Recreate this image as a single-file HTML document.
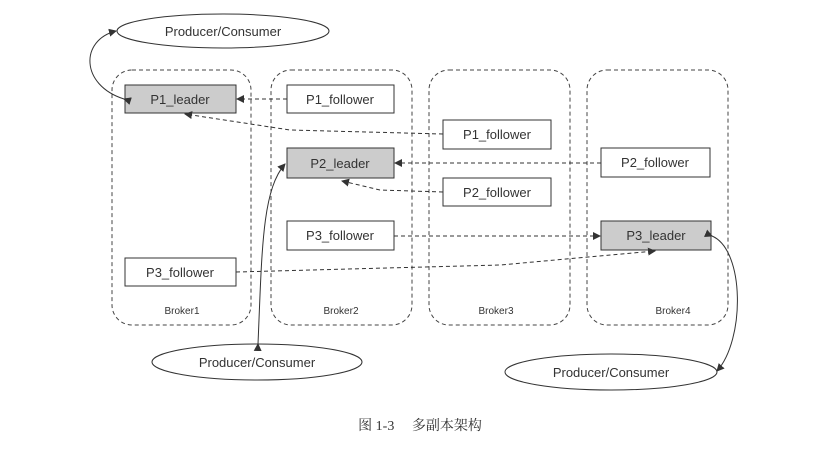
<!DOCTYPE html>
<html><head><meta charset="utf-8"><style>
body{margin:0;background:#fff;}
svg text{font-family:"Liberation Sans","DejaVu Sans",sans-serif;fill:#333;}
</style></head><body>
<svg width="839" height="444" viewBox="0 0 839 444" xmlns="http://www.w3.org/2000/svg">
<defs>
<marker id="a" markerWidth="8" markerHeight="8" refX="7" refY="4" orient="auto" markerUnits="userSpaceOnUse"><path d="M0,0 L8,4 L0,8 z" fill="#333"/></marker>
</defs>
<g fill="none" stroke="#444" stroke-width="1" stroke-dasharray="4,3">
<rect x="112" y="70" width="139" height="255" rx="20"/>
<rect x="271" y="70" width="141" height="255" rx="20"/>
<rect x="429" y="70" width="141" height="255" rx="20"/>
<rect x="587" y="70" width="141" height="255" rx="20"/>
</g>
<g font-size="10" text-anchor="middle">
<text x="182" y="314">Broker1</text><text x="341" y="314">Broker2</text>
<text x="496" y="314">Broker3</text><text x="673" y="314">Broker4</text>
</g>
<g stroke="#333" stroke-width="1">
<rect x="125" y="85" width="111" height="28" fill="#ccc"/>
<rect x="287" y="85" width="107" height="28" fill="#fff"/>
<rect x="443" y="120" width="108" height="29" fill="#fff"/>
<rect x="287" y="148" width="107" height="30" fill="#ccc"/>
<rect x="443" y="178" width="108" height="28" fill="#fff"/>
<rect x="601" y="148" width="109" height="29" fill="#fff"/>
<rect x="287" y="221" width="107" height="29" fill="#fff"/>
<rect x="601" y="221" width="110" height="29" fill="#ccc"/>
<rect x="125" y="258" width="111" height="28" fill="#fff"/>
<ellipse cx="223" cy="31" rx="106" ry="17" fill="#fff"/>
<ellipse cx="257" cy="362" rx="105" ry="18" fill="#fff"/>
<ellipse cx="611" cy="372" rx="106" ry="18" fill="#fff"/>
</g>
<g font-size="13" text-anchor="middle">
<text x="180" y="104">P1_leader</text>
<text x="340" y="104">P1_follower</text>
<text x="497" y="139">P1_follower</text>
<text x="340" y="168">P2_leader</text>
<text x="497" y="197">P2_follower</text>
<text x="655" y="167">P2_follower</text>
<text x="340" y="240">P3_follower</text>
<text x="656" y="240">P3_leader</text>
<text x="180" y="277">P3_follower</text>
<text x="223" y="36">Producer/Consumer</text>
<text x="257" y="367">Producer/Consumer</text>
<text x="611" y="377">Producer/Consumer</text>
</g>
<g fill="none" stroke="#333" stroke-width="1" stroke-dasharray="4,3">
<path d="M287,99 L237,99" marker-end="url(#a)"/>
<path d="M443,134 L290,130 L185,114" marker-end="url(#a)"/>
<path d="M601,163 L395,163" marker-end="url(#a)"/>
<path d="M443,192 L380,190 L342,181" marker-end="url(#a)"/>
<path d="M394,236 L600,236" marker-end="url(#a)"/>
<path d="M236,272 L500,265 L655,251" marker-end="url(#a)"/>
</g>
<g fill="none" stroke="#333" stroke-width="1">
<path d="M124,99 C80,85 80,40 116,31" marker-end="url(#a)" marker-start="url(#a)"/>
<path d="M258,344 C262,250 262,190 285,164" marker-end="url(#a)" marker-start="url(#a)"/>
<path d="M712,236 C745,250 745,340 717,371" marker-end="url(#a)" marker-start="url(#a)"/>
</g>
<text x="420" y="430" font-size="14" text-anchor="middle" style='font-family:"Liberation Serif","Noto Serif CJK SC",serif'>图 1-3　 多副本架构</text>
</svg>
</body></html>
